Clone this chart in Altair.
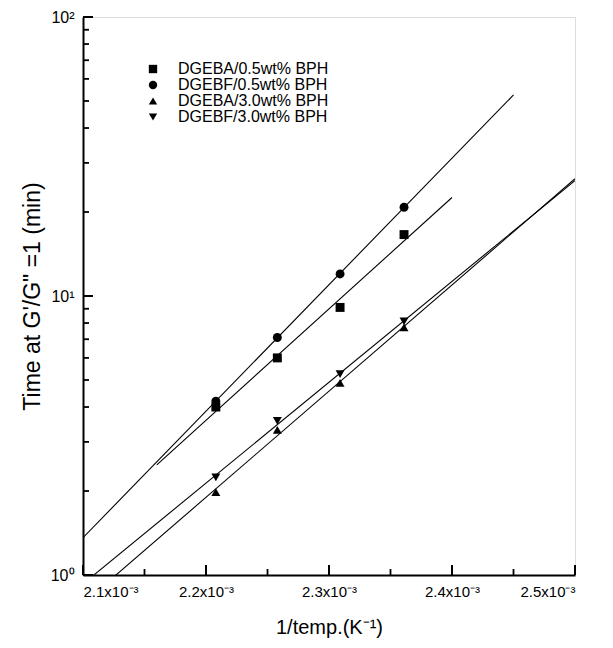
import altair as alt
import pandas as pd
import numpy as np

# ---- data ----
inv_temp = [2.208e-3, 2.258e-3, 2.309e-3, 2.361e-3]
series_names = ["DGEBA/0.5wt% BPH", "DGEBF/0.5wt% BPH", "DGEBA/3.0wt% BPH", "DGEBF/3.0wt% BPH"]
dgeba_05 = [4.0, 6.0, 9.1, 16.6]
dgebf_05 = [4.2, 7.1, 12.0, 20.8]
dgeba_30 = [1.98, 3.31, 4.88, 7.72]
dgebf_30 = [2.24, 3.57, 5.25, 8.11]
series_values = [dgeba_05, dgebf_05, dgeba_30, dgebf_30]
fit_ranges = [[2.16e-3, 2.40e-3], [2.10e-3, 2.45e-3], [2.10e-3, 2.50e-3], [2.10e-3, 2.50e-3]]
shapes = ["square", "circle", "triangle-up", "triangle-down"]

x_major = [2.1e-3, 2.2e-3, 2.3e-3, 2.4e-3, 2.5e-3]
x_minor = [2.15e-3, 2.25e-3, 2.35e-3, 2.45e-3]
y_major = [1, 10, 100]
y_minor = [2, 3, 4, 5, 6, 7, 8, 9, 20, 30, 40, 50, 60, 70, 80, 90]

W, H = 492, 558
FONT = "Liberation Sans"

# ---- tables ----
pts = pd.DataFrame([
    {"x": xv, "y": yv, "series": name}
    for name, vals in zip(series_names, series_values)
    for xv, yv in zip(inv_temp, vals)
])

fit_rows = []
for name, vals, rng in zip(series_names, series_values, fit_ranges):
    slope, icpt = np.polyfit(np.array(inv_temp), np.log10(np.array(vals)), 1)
    for xv in rng:
        fit_rows.append({"x": xv, "y": 10 ** (slope * xv + icpt), "series": name})
fits = pd.DataFrame(fit_rows)

xs = alt.Scale(domain=[2.1e-3, 2.5e-3], nice=False, zero=False)
ys = alt.Scale(type="log", domain=[1, 100], nice=False)

x_axis = alt.Axis(
    values=x_major, ticks=False, grid=False,
    labelExpr="format(datum.value*1000, '.1f') + 'x10⁻³'",
    labelFontSize=15, labelFont=FONT, labelColor="black", labelPadding=9,
    title="1/temp.(K⁻¹)", titleFontSize=20, titleFont=FONT, titleFontWeight="normal",
    titleColor="black", titlePadding=18,
    domainColor="black", domainWidth=2,
)
y_axis = alt.Axis(
    values=y_major, ticks=False, grid=False,
    labelExpr="'10' + (datum.value < 2 ? '⁰' : datum.value < 20 ? '¹' : '²')",
    labelFontSize=16, labelFont=FONT, labelColor="black", labelPadding=9,
    title="Time at G'/G\" =1 (min)", titleFontSize=23, titleFont=FONT,
    titleFontWeight="normal", titleColor="black", titlePadding=6,
    domainColor="black", domainWidth=2,
)

lines = alt.Chart(fits).mark_line(color="black", strokeWidth=1.1, clip=True).encode(
    x=alt.X("x:Q", scale=xs, axis=x_axis),
    y=alt.Y("y:Q", scale=ys, axis=y_axis),
    detail="series:N",
)

points = alt.Chart(pts).mark_point(filled=True, opacity=1, color="black", size=80).encode(
    x=alt.X("x:Q"),
    y=alt.Y("y:Q"),
    shape=alt.Shape(
        "series:N",
        scale=alt.Scale(domain=series_names, range=shapes),
        legend=alt.Legend(
            title=None, orient="none", legendX=62, legendY=44,
            labelFontSize=16, labelFont=FONT, labelColor="black",
            symbolFillColor="black", symbolStrokeColor="black", symbolSize=70,
            labelOffset=17, rowPadding=0, padding=0,
        ),
    ),
)

TICK_COLOR = "black"
# inward ticks (major longer than minor)
xmaj = alt.Chart(pd.DataFrame({"x": x_major})).mark_rule(color=TICK_COLOR, strokeWidth=2).encode(
    x=alt.X("x:Q"), y=alt.value(H), y2=alt.value(H - 10))
xmin = alt.Chart(pd.DataFrame({"x": x_minor})).mark_rule(color=TICK_COLOR, strokeWidth=1.8).encode(
    x=alt.X("x:Q"), y=alt.value(H), y2=alt.value(H - 6))
ymaj = alt.Chart(pd.DataFrame({"y": y_major})).mark_rule(color=TICK_COLOR, strokeWidth=2).encode(
    y=alt.Y("y:Q"), x=alt.value(0), x2=alt.value(10))
ymin = alt.Chart(pd.DataFrame({"y": y_minor})).mark_rule(color=TICK_COLOR, strokeWidth=1.8).encode(
    y=alt.Y("y:Q"), x=alt.value(0), x2=alt.value(6))

chart = alt.layer(lines, points, xmaj, xmin, ymaj, ymin).properties(
    width=W, height=H,
    autosize=alt.AutoSizeParams(type="none"),
    padding={"left": 75, "top": 9, "right": 30, "bottom": 65},
).configure_view(stroke="black", strokeWidth=2).configure(background="white")

chart.save("out.html", embed_options={"renderer": "svg", "actions": False})
